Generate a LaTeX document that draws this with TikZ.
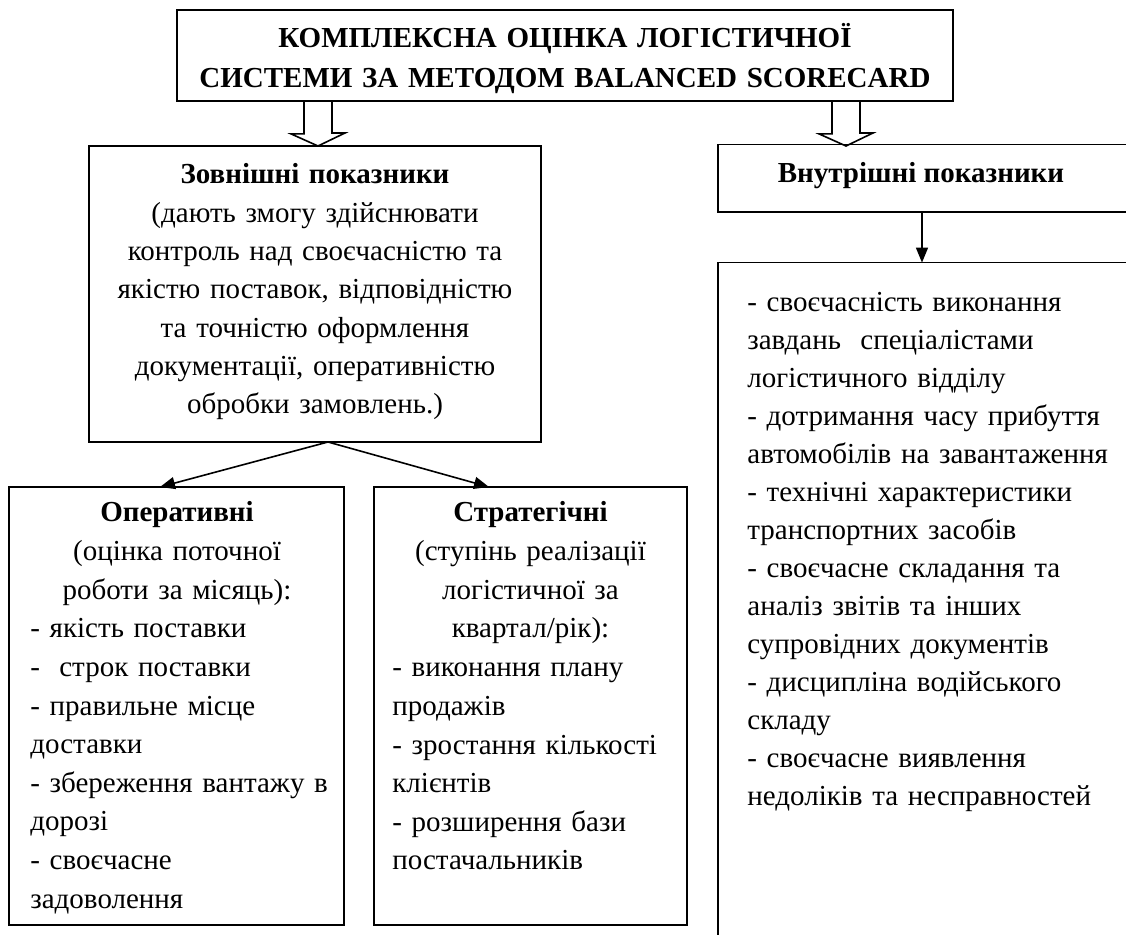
\documentclass[tikz,border=0pt]{standalone}
\usepackage{fontspec}
\setmainfont{Liberation Serif}
\usetikzlibrary{arrows.meta}
\begin{document}
\begin{tikzpicture}[x=0.5pt,y=-0.5pt,
  box/.style={draw=black, line width=0.9pt, inner sep=0pt},
  ghost/.style={inner sep=0pt},
  edge/.style={line width=0.9pt},
  txt/.style={inner sep=0pt, font=\fontsize{14.5pt}{19.3pt}\selectfont},
  titletxt/.style={inner sep=0pt, font=\fontsize{14.5pt}{20pt}\selectfont\bfseries},
  conn/.style={line width=0.8pt, -{Triangle[length=7.5pt,width=6pt]}},
  hollow/.style={draw=black, line width=0.8pt}]
\useasboundingbox (0,0) rectangle (1126,935);

% boxes
\node[box, minimum width=388pt, minimum height=45.5pt] (title) at (565,55.5) {};
\node[box, minimum width=226pt, minimum height=148pt] (ext) at (315,294) {};
\node[ghost, minimum width=204pt, minimum height=33.5pt] (hdr) at (922,178.5) {};
\draw[edge] (hdr.north east) -- (hdr.north west) -- (hdr.south west) -- (hdr.south east);
\node[ghost, minimum width=204pt, minimum height=336pt] (big) at (922,599) {};
\draw[edge] (big.north east) -- (big.north west) -- (big.south west);
\node[box, minimum width=167.5pt, minimum height=219pt] (oper) at (176.5,706) {};
\node[box, minimum width=156.5pt, minimum height=219pt] (strat) at (530.5,706) {};

% hollow arrows
\coordinate (la) at (318,146);
\coordinate (ra) at (846,146);
\draw[hollow] (title.south -| la) ++(-14,0) -- ++(0,32) -- ++(-13,0) -- (la) -- ++(27,-13) -- ++(-13,0) -- ++(0,-32);
\draw[hollow] (title.south -| ra) ++(-14,0) -- ++(0,32) -- ++(-13,0) -- (ra) -- ++(27,-13) -- ++(-13,0) -- ++(0,-32);

% connectors
\coordinate (apex) at (328,442);
\coordinate (otop) at (160,487);
\coordinate (stop) at (489,487);
\draw[conn] (apex) -- (otop);
\draw[conn] (apex) -- (stop);
\draw[conn] (hdr.south) -- (big.north);

% texts
\node[titletxt, align=center, text width=385pt, anchor=base] (titletext) at (565,48)
  {КОМПЛЕКСНА ОЦІНКА ЛОГІСТИЧНОЇ\\СИСТЕМИ ЗА МЕТОДОМ BALANCED SCORECARD};

\node[txt, font=\fontsize{14.5pt}{19.15pt}\selectfont, align=center, text width=222pt, anchor=base] (exttext) at (315,184)
  {\textbf{Зовнішні показники}\\
   (дають змогу здійснювати\\
   контроль над своєчасністю та\\
   якістю поставок, відповідністю\\
   та точністю оформлення\\
   документації, оперативністю\\
   обробки замовлень.)};

\node[txt, font=\fontsize{14.5pt}{19pt}\selectfont\bfseries, anchor=base] (hdrtext) at (921,183) {Внутрішні показники};

\node[txt, align=center, text width=160pt, anchor=base] (operhead) at (177,522)
  {\textbf{Оперативні}\\(оцінка поточної\\роботи за місяць):};
\node[txt, align=left, text width=154pt, anchor=base west] (operitems) at (30,638)
  {- якість поставки\\
   -\ \ строк поставки\\
   - правильне місце\\
   доставки\\
   - збереження вантажу в\\
   дорозі\\
   - своєчасне\\
   задоволення};

\node[txt, align=center, text width=150pt, anchor=base] (strathead) at (530.5,522)
  {\textbf{Стратегічні}\\(ступінь реалізації\\логістичної за\\квартал/рік):};
\node[txt, align=left, text width=144pt, anchor=base west] (stratitems) at (392,677)
  {- виконання плану\\
   продажів\\
   - зростання кількості\\
   клієнтів\\
   - розширення бази\\
   постачальників};

\node[txt, font=\fontsize{14.5pt}{19pt}\selectfont, align=left, text width=185pt, anchor=base west] (bigitems) at (747,312)
  {- своєчасність виконання\\
   завдань\ \ спеціалістами\\
   логістичного відділу\\
   - дотримання часу прибуття\\
   автомобілів на завантаження\\
   - технічні характеристики\\
   транспортних засобів\\
   - своєчасне складання та\\
   аналіз звітів та інших\\
   супровідних документів\\
   - дисципліна водійського\\
   складу\\
   - своєчасне виявлення\\
   недоліків та несправностей};
\end{tikzpicture}
\end{document}
